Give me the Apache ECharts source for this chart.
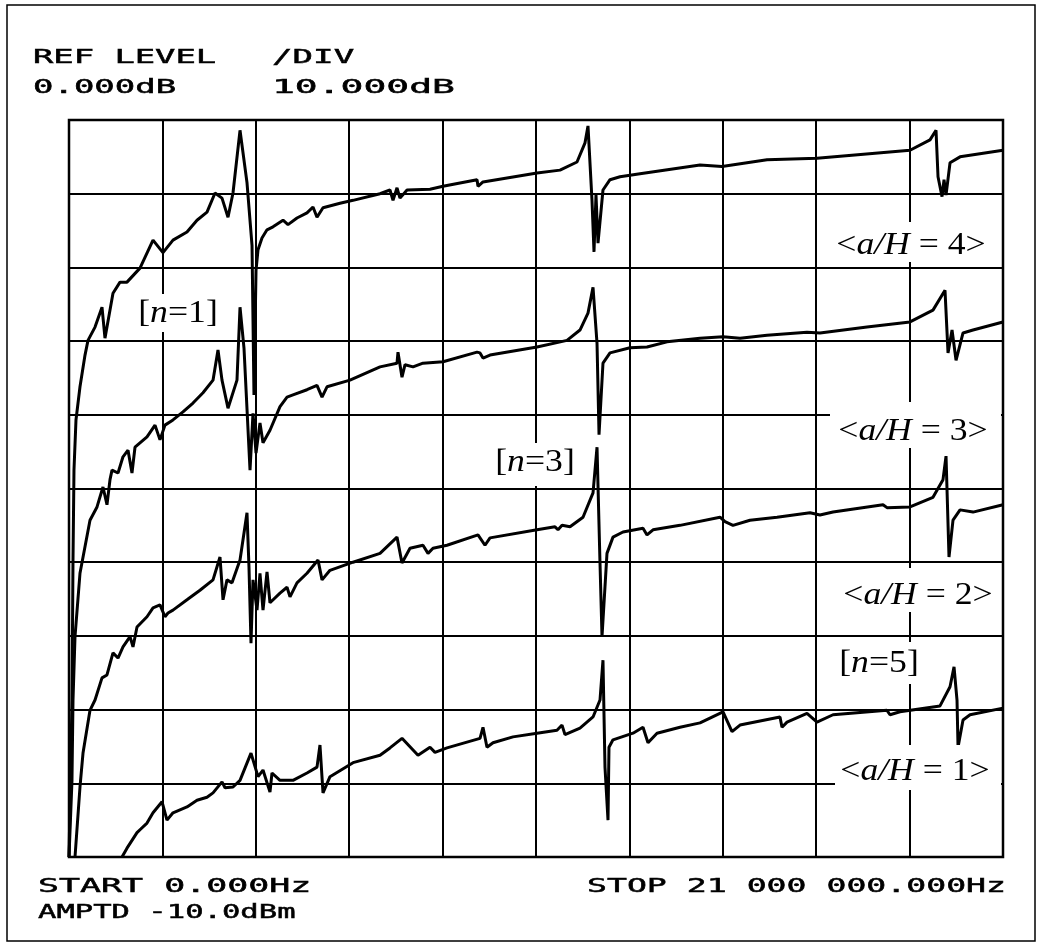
<!DOCTYPE html>
<html>
<head>
<meta charset="utf-8">
<script src="https://cdn.jsdelivr.net/npm/echarts@6/dist/echarts.min.js"></script>
<style>
html,body{margin:0;padding:0;background:#fff;}
#c{width:1043px;height:948px;}
</style>
</head>
<body>
<div id="c"></div>
<script>
// ---- axis setup (spectrum analyser screen) ----
const freqStartMHz = 0;
const freqStopMHz = 21;
const freqPerDivMHz = 2.1;
const refLevelDb = 0;
const dbPerDiv = 10;

// ---- traces: [frequency MHz, level dB] ----
const trace_aH4 = [
 [0,-100],[0.067,-78.7],[0.09,-59.7],[0.112,-47.5],[0.157,-40.7],[0.247,-36.2],[0.36,-31.9],[0.427,-29.9],
 [0.585,-28.1],[0.742,-25.4],[0.809,-29.6],[0.989,-23.5],[1.147,-22.0],[1.304,-22.0],[1.596,-20.1],
 [1.889,-16.3],[2.113,-18.0],[2.338,-16.3],[2.653,-15.2],[2.878,-13.6],[3.103,-12.5],[3.283,-9.9],
 [3.44,-10.6],[3.575,-13.2],[3.687,-9.9],[3.845,-1.4],[4.002,-8.5],[4.115,-17.0],[4.159,-37.3],
 [4.205,-20.4],[4.25,-17.6],[4.339,-16.0],[4.452,-14.9],[4.587,-14.5],[4.812,-13.6],[4.924,-14.2],
 [5.126,-13.3],[5.351,-12.6],[5.486,-11.8],[5.576,-13.2],[5.711,-11.9],[6.093,-11.3],[6.386,-10.9],
 [6.993,-10.0],[7.217,-9.5],[7.285,-10.9],[7.375,-9.2],[7.442,-10.6],[7.6,-9.5],[8.117,-9.4],[8.409,-9.0],
 [9.174,-8.1],[9.196,-9.0],[9.308,-8.4],[10.523,-7.2],[11.04,-6.8],[11.422,-5.7],[11.602,-3.1],
 [11.669,-0.8],[11.759,-10.9],[11.804,-17.9],[11.849,-10.2],[11.894,-16.7],[12.006,-9.5],[12.164,-8.1],
 [12.389,-7.7],[12.838,-7.3],[14.188,-6.1],[14.682,-6.3],[15.694,-5.4],[16.818,-5.2],[18.909,-4.1],
 [19.359,-2.7],[19.494,-1.4],[19.539,-7.7],[19.629,-10.4],[19.674,-8.1],[19.719,-10.2],[19.809,-5.8],
 [20.034,-5.0],[21,-4.1]
];
const trace_aH3 = [
 [0,-100],[0.067,-89.6],[0.09,-78.7],[0.135,-70.1],[0.247,-61.5],[0.472,-54.3],[0.63,-52.5],[0.764,-49.8],
 [0.854,-52.2],[0.922,-48.8],[0.967,-47.5],[1.102,-47.9],[1.214,-45.7],[1.327,-44.8],[1.416,-47.9],
 [1.484,-44.4],[1.754,-43.0],[1.934,-41.4],[2.046,-43.4],[2.158,-41.4],[2.338,-40.7],[2.563,-39.6],
 [2.788,-38.4],[3.013,-37.0],[3.238,-35.3],[3.35,-31.2],[3.44,-35.3],[3.575,-39.1],[3.777,-35.3],
 [3.845,-25.4],[3.935,-31.0],[4.07,-47.5],[4.137,-39.8],[4.205,-45.2],[4.294,-41.1],[4.362,-43.8],
 [4.519,-42.1],[4.744,-38.9],[4.902,-37.6],[5.036,-37.3],[5.351,-36.6],[5.576,-36.0],[5.689,-37.6],
 [5.801,-36.2],[6.318,-35.3],[6.993,-33.5],[7.375,-33.0],[7.397,-31.5],[7.487,-34.9],[7.555,-33.2],
 [7.735,-33.5],[7.959,-33.0],[8.409,-32.8],[9.174,-31.5],[9.241,-31.6],[9.308,-32.3],[9.466,-31.9],
 [10.523,-30.8],[11.197,-29.9],[11.489,-28.5],[11.669,-26.2],[11.782,-22.7],[11.872,-30.3],
 [11.917,-42.7],[12.006,-33.0],[12.164,-31.6],[12.613,-30.9],[12.996,-30.8],[13.446,-30.1],
 [14.188,-29.6],[14.705,-29.4],[15.087,-29.6],[15.694,-29.2],[16.593,-28.8],[16.885,-28.9],
 [17.942,-28.1],[18.909,-27.4],[19.426,-25.8],[19.696,-23.1],[19.764,-31.6],[19.854,-28.5],
 [19.944,-32.6],[20.101,-28.9],[20.326,-28.5],[21,-27.4]
];
const trace_aH2 = [
 [0.135,-100],[0.247,-90.5],[0.315,-85.9],[0.472,-80.1],[0.585,-78.7],[0.742,-75.7],[0.854,-75.3],
 [0.989,-72.3],[1.102,-73.0],[1.214,-71.5],[1.372,-70.1],[1.439,-71.5],[1.529,-68.8],[1.754,-67.4],
 [1.889,-66.2],[2.046,-65.8],[2.158,-67.4],[2.226,-66.9],[2.338,-66.5],[2.653,-65.1],[2.945,-63.8],
 [3.238,-62.4],[3.395,-59.3],[3.463,-65.1],[3.552,-62.4],[3.665,-62.8],[3.845,-59.7],[4.002,-53.3],
 [4.047,-60.7],[4.092,-71.0],[4.137,-62.4],[4.227,-66.5],[4.294,-61.5],[4.362,-66.5],[4.452,-61.3],
 [4.519,-65.5],[4.744,-64.2],[4.902,-63.4],[4.969,-64.7],[5.126,-62.8],[5.351,-61.5],[5.599,-59.7],
 [5.689,-62.4],[5.868,-61.1],[6.386,-60.0],[6.993,-58.8],[7.375,-56.6],[7.487,-60.1],[7.667,-58.1],
 [7.959,-57.7],[8.072,-58.8],[8.184,-58.1],[8.499,-57.7],[9.196,-56.3],[9.353,-57.7],[9.466,-56.7],
 [10.523,-55.6],[10.927,-55.2],[10.995,-55.6],[11.085,-55.0],[11.265,-55.2],[11.557,-53.9],
 [11.782,-50.6],[11.872,-44.4],[11.939,-60.1],[11.984,-70.1],[12.096,-58.8],[12.231,-56.6],
 [12.456,-55.9],[12.906,-55.4],[12.996,-56.3],[13.131,-55.6],[13.738,-55.0],[14.637,-53.9],
 [14.75,-54.5],[14.929,-55.0],[15.311,-54.3],[15.919,-53.9],[16.661,-53.3],[16.885,-53.6],
 [17.178,-53.2],[18.302,-52.2],[18.392,-52.6],[18.909,-52.5],[19.426,-51.2],[19.651,-48.8],
 [19.719,-45.6],[19.786,-59.3],[19.876,-54.3],[20.034,-52.9],[20.326,-53.2],[21,-52.2]
];
const trace_aH1 = [
 [1.192,-100],[1.304,-98.8],[1.529,-96.7],[1.596,-96.3],[1.754,-95.4],[1.889,-94.0],[2.091,-92.5],
 [2.203,-95.0],[2.338,-94.0],[2.653,-93.2],[2.878,-92.3],[3.103,-91.9],[3.238,-91.3],[3.44,-89.8],
 [3.508,-90.6],[3.687,-90.5],[3.845,-89.6],[4.092,-85.9],[4.25,-89.1],[4.362,-88.2],[4.519,-91.2],
 [4.564,-88.6],[4.744,-89.6],[5.036,-89.6],[5.351,-88.6],[5.576,-87.8],[5.643,-84.8],[5.711,-91.3],
 [5.868,-89.1],[6.386,-87.2],[6.993,-86.2],[7.217,-85.2],[7.487,-83.9],[7.847,-86.2],[8.117,-85.1],
 [8.229,-85.8],[8.499,-85.2],[9.241,-83.9],[9.308,-82.4],[9.398,-85.1],[9.533,-84.5],[9.983,-83.7],
 [10.523,-83.2],[10.972,-82.8],[11.085,-82.1],[11.152,-83.4],[11.489,-82.5],[11.782,-81.0],
 [11.939,-78.7],[12.006,-73.3],[12.051,-87.8],[12.119,-95.0],[12.141,-85.1],[12.231,-84.1],
 [12.681,-83.2],[12.906,-82.4],[13.018,-84.5],[13.221,-83.2],[13.738,-82.4],[14.188,-81.8],
 [14.705,-80.3],[14.907,-83.0],[15.087,-82.1],[15.986,-81.0],[16.031,-82.4],[16.144,-81.7],
 [16.593,-80.5],[16.818,-81.7],[17.178,-80.7],[18.392,-80.1],[18.459,-80.7],[18.684,-80.3],
 [19.584,-79.5],[19.809,-76.9],[19.899,-74.2],[19.966,-78.7],[19.989,-85.1],[20.101,-81.4],
 [20.259,-80.7],[21,-79.8]
];

// ---- screen annotations ----
const headerTexts = ['REF LEVEL', '/DIV', '0.000dB', '10.000dB'];
const footerTexts = ['START 0.000Hz', 'AMPTD -10.0dBm', 'STOP 21 000 000.000Hz'];
const traceLabels = ['4', '3', '2', '1'];   // a/H values
const modeLabels = ['1', '3', '5'];         // n values

const chart = echarts.init(document.getElementById('c'), null, {renderer: 'canvas'});

const MONO = '"DejaVu Sans Mono", monospace';
const SERIF = '"Liberation Serif", "DejaVu Serif", serif';

function plotText(str, x, y, inkWidth, fs) {
  const natural = (str.length - 0.3) * 0.602 * fs;
  return {
    type: 'text', x: x, y: y, scaleX: inkWidth / natural, z: 10,
    style: {text: str, fontFamily: MONO, fontSize: fs, fill: '#000',
            stroke: '#000', lineWidth: 0.5,
            textAlign: 'left', textVerticalAlign: 'middle', align: 'left', verticalAlign: 'middle'}
  };
}
function whiteBox(x1, y1, x2, y2) {
  return {type: 'rect', z: 8, shape: {x: x1, y: y1, width: x2 - x1, height: y2 - y1},
          style: {fill: '#fff'}, silent: true};
}
const richStyles = {
  n: {fontFamily: SERIF, fontSize: 31, fill: '#000'},
  i: {fontFamily: SERIF, fontSize: 31, fontStyle: 'italic', fill: '#000'}
};
function richLabel(text, cx, cy) {
  return {type: 'text', x: cx, y: cy, scaleX: 1.15, z: 10,
          style: {text: text, rich: richStyles, textAlign: 'center', textVerticalAlign: 'middle',
                  align: 'center', verticalAlign: 'middle'}};
}
const aHText = v => '{n|<}{i|a/H}{n| = ' + v + '>}';
const nText = v => '{n|[}{i|n}{n|=' + v + ']}';

const graphics = [
  {type: 'rect', z: 1, shape: {x: 7, y: 5, width: 1028, height: 936},
   style: {fill: null, stroke: '#000', lineWidth: 1.5}, silent: true},
  plotText(headerTexts[0], 33, 58, 177, 20),
  plotText(headerTexts[1], 272, 58, 76, 20),
  plotText(headerTexts[2], 33, 88, 137, 20),
  plotText(headerTexts[3], 272, 88, 176, 20),
  plotText(footerTexts[0], 38, 887, 267, 20),
  plotText(footerTexts[1], 38, 913, 252, 20),
  plotText(footerTexts[2], 587, 887, 413, 20),
  // label boxes
  whiteBox(835, 222, 994, 262), richLabel(aHText(traceLabels[0]), 911, 246),
  whiteBox(830, 402, 1001, 448), richLabel(aHText(traceLabels[1]), 913, 432),
  whiteBox(838, 568, 1001, 612), richLabel(aHText(traceLabels[2]), 918, 596),
  whiteBox(835, 745, 1001, 790), richLabel(aHText(traceLabels[3]), 915, 772),
  whiteBox(133, 294, 223, 332), richLabel(nText(modeLabels[0]), 178, 314),
  whiteBox(488, 443, 582, 486), richLabel(nText(modeLabels[1]), 535, 463),
  whiteBox(833, 642, 927, 684), richLabel(nText(modeLabels[2]), 879, 664)
];

function traceSeries(data) {
  return {type: 'line', data: data, showSymbol: false, symbol: 'none', smooth: false,
          lineStyle: {color: '#000', width: 3}, z: 3, clip: true, silent: true};
}

chart.setOption({
  backgroundColor: '#fff',
  animation: false,
  grid: {left: 69, top: 120, width: 934, height: 737, show: true,
         borderColor: '#000', borderWidth: 2.5, backgroundColor: 'transparent'},
  xAxis: {type: 'value', min: freqStartMHz, max: freqStopMHz, interval: freqPerDivMHz,
          axisLine: {show: false}, axisTick: {show: false}, axisLabel: {show: false},
          splitLine: {show: true, lineStyle: {color: '#000', width: 2}}},
  yAxis: {type: 'value', min: refLevelDb - 10 * dbPerDiv, max: refLevelDb, interval: dbPerDiv,
          axisLine: {show: false}, axisTick: {show: false}, axisLabel: {show: false},
          splitLine: {show: true, lineStyle: {color: '#000', width: 2}}},
  series: [traceSeries(trace_aH4), traceSeries(trace_aH3), traceSeries(trace_aH2), traceSeries(trace_aH1)],
  graphic: {elements: graphics}
});
</script>
</body>
</html>
